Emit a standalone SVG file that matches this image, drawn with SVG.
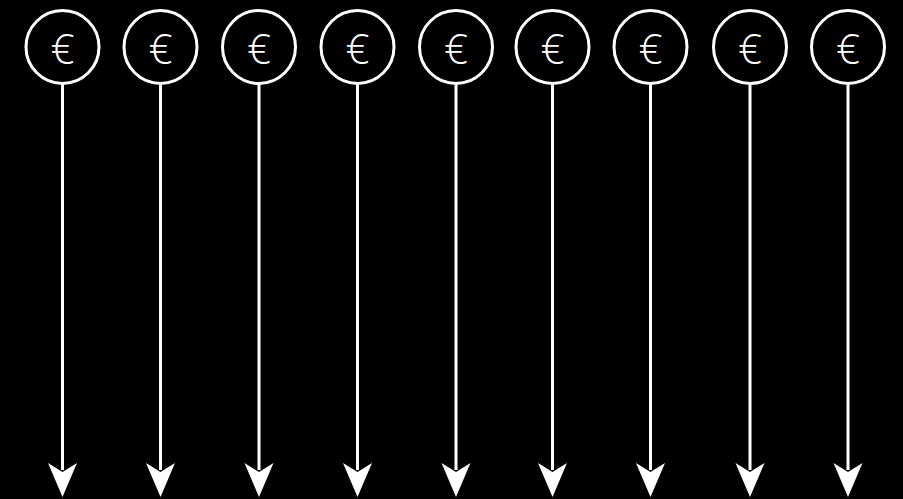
<svg xmlns="http://www.w3.org/2000/svg" width="903" height="499" viewBox="0 0 903 499">
<style>
.c{fill:none;stroke:#fff;stroke-width:3}
.t{fill:#fff;font-family:"Open Sans","DejaVu Sans",sans-serif;font-weight:300;font-size:42px;text-anchor:middle;dominant-baseline:central}
.l{stroke:#fff;stroke-width:3;fill:none}
.a{fill:#fff}
</style>
<rect width="903" height="499" fill="#000"/>
<g id="connectors">
<g transform="translate(62.5,0)"><path class="l" d="M0,84V470"/><path class="a" d="M-14.5,463L0,497L14.5,463L0,472Z"/></g>
<g transform="translate(160.5,0)"><path class="l" d="M0,84V470"/><path class="a" d="M-14.5,463L0,497L14.5,463L0,472Z"/></g>
<g transform="translate(259,0)"><path class="l" d="M0,84V470"/><path class="a" d="M-14.5,463L0,497L14.5,463L0,472Z"/></g>
<g transform="translate(357.5,0)"><path class="l" d="M0,84V470"/><path class="a" d="M-14.5,463L0,497L14.5,463L0,472Z"/></g>
<g transform="translate(456,0)"><path class="l" d="M0,84V470"/><path class="a" d="M-14.5,463L0,497L14.5,463L0,472Z"/></g>
<g transform="translate(552.5,0)"><path class="l" d="M0,84V470"/><path class="a" d="M-14.5,463L0,497L14.5,463L0,472Z"/></g>
<g transform="translate(650.5,0)"><path class="l" d="M0,84V470"/><path class="a" d="M-14.5,463L0,497L14.5,463L0,472Z"/></g>
<g transform="translate(750,0)"><path class="l" d="M0,84V470"/><path class="a" d="M-14.5,463L0,497L14.5,463L0,472Z"/></g>
<g transform="translate(848,0)"><path class="l" d="M0,84V470"/><path class="a" d="M-14.5,463L0,497L14.5,463L0,472Z"/></g>
</g>
<g id="n1"><circle class="c" cx="62.5" cy="47" r="36.5"/><text class="t" x="62.5" y="47">€</text></g>
<g id="n2"><circle class="c" cx="160.5" cy="47" r="36.5"/><text class="t" x="160.5" y="47">€</text></g>
<g id="n3"><circle class="c" cx="259" cy="47" r="36.5"/><text class="t" x="259" y="47">€</text></g>
<g id="n4"><circle class="c" cx="357.5" cy="47" r="36.5"/><text class="t" x="357.5" y="47">€</text></g>
<g id="n5"><circle class="c" cx="456" cy="47" r="36.5"/><text class="t" x="456" y="47">€</text></g>
<g id="n6"><circle class="c" cx="552.5" cy="47" r="36.5"/><text class="t" x="552.5" y="47">€</text></g>
<g id="n7"><circle class="c" cx="650.5" cy="47" r="36.5"/><text class="t" x="650.5" y="47">€</text></g>
<g id="n8"><circle class="c" cx="750" cy="47" r="36.5"/><text class="t" x="750" y="47">€</text></g>
<g id="n9"><circle class="c" cx="848" cy="47" r="36.5"/><text class="t" x="848" y="47">€</text></g>
</svg>
